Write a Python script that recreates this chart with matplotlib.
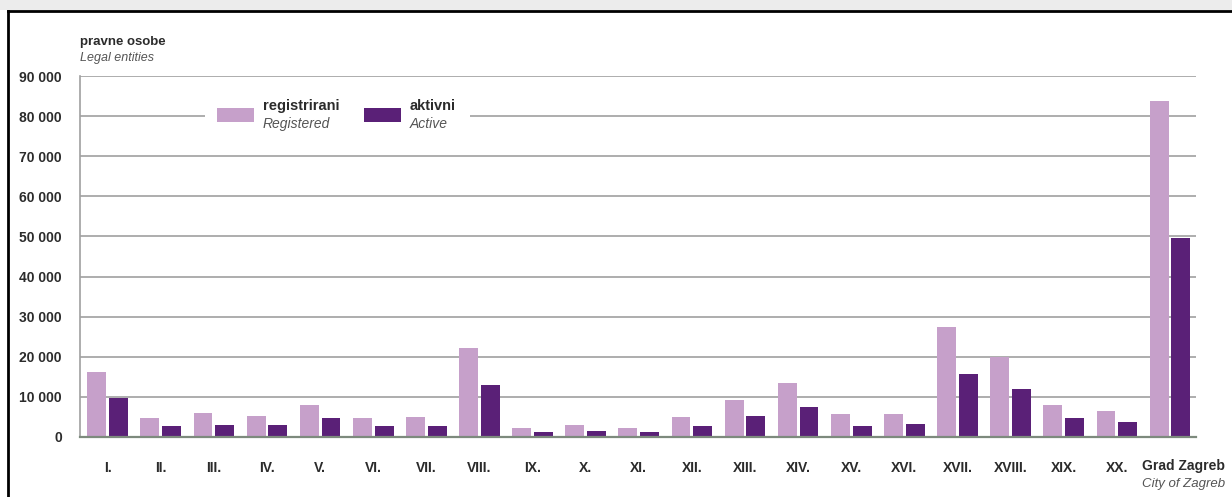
import matplotlib.pyplot as plt
import numpy as np
from matplotlib.patches import Rectangle
from matplotlib.lines import Line2D

# === DATA ===
districts = ["I.", "II.", "III.", "IV.", "V.", "VI.", "VII.", "VIII.", "IX.", "X.",
             "XI.", "XII.", "XIII.", "XIV.", "XV.", "XVI.", "XVII.", "XVIII.", "XIX.", "XX.",
             "Grad Zagreb"]
registered = [16300, 4750, 6000, 5250, 8000, 4800, 5100, 22300, 2200, 2900,
              2300, 5100, 9250, 13400, 5650, 5750, 27300, 20000, 8000, 6500, 83700]
active = [9800, 2800, 3000, 3000, 4800, 2700, 2800, 13000, 1250, 1600,
          1350, 2800, 5250, 7400, 2800, 3200, 15600, 11900, 4700, 3850, 49500]
yticks = list(range(0, 90001, 10000))

REG_COL = "#c6a0ca"
ACT_COL = "#5a2077"
TXT = "#2b2b2b"
FONT = ["Liberation Sans Narrow", "Liberation Sans", "DejaVu Sans"]
plt.rcParams['font.family'] = FONT

fig = plt.figure(figsize=(12.32, 4.97), dpi=100)
ax = fig.add_axes([80 / 1232, 60 / 497, 1116 / 1232, 361 / 497])

x = np.arange(len(districts))
w = 0.355
ax.bar(x - 0.205, registered, w, color=REG_COL, zorder=3)
ax.bar(x + 0.205, active, w, color=ACT_COL, zorder=3)

ax.set_xlim(-0.52, 20.49)
ax.set_ylim(0, 90000)
ax.set_yticks(yticks)
ax.set_yticklabels([f"{v // 1000} 000" if v else "0" for v in yticks])
ax.yaxis.grid(True, color="#a0a0a0", linewidth=1.2, zorder=0)
ax.tick_params(axis="y", length=0, pad=13, labelsize=10, labelcolor=TXT)
ax.tick_params(axis="x", length=0, pad=17, labelsize=10, labelcolor=TXT)
ax.set_xticks(x)
# last label is placed by hand, right-aligned to the frame edge
ax.set_xticklabels(districts[:-1] + [""])
for lbl in ax.get_xticklabels() + ax.get_yticklabels():
    lbl.set_fontweight("bold")

for s in ["top", "right"]:
    ax.spines[s].set_visible(False)
ax.spines["left"].set_color("#a0a0a0")
ax.spines["left"].set_linewidth(1.2)
ax.spines["bottom"].set_color("#7d8a7d")
ax.spines["bottom"].set_linewidth(1.6)
ax.spines["bottom"].set_zorder(4)

# titles
fig.text(80 / 1232, 1 - 42 / 497, "pravne osobe", fontsize=9.5, fontweight="bold",
         color=TXT, va="center")
fig.text(80 / 1232, 1 - 58 / 497, "Legal entities", fontsize=9, style="italic",
         color="#555555", va="center")
fig.text(1225 / 1232, 1 - 466 / 497, districts[-1], fontsize=10, fontweight="bold",
         color=TXT, va="center", ha="right")
fig.text(1225 / 1232, 1 - 484 / 497, "City of Zagreb", fontsize=9.5, style="italic",
         color="#555555", va="center", ha="right")

# legend (manual, white box over the gridline)
fig.patches.append(Rectangle((205 / 1232, 1 - 140 / 497), 265 / 1232, 48 / 497,
                             transform=fig.transFigure, facecolor="white",
                             edgecolor="none", zorder=5))
fig.patches.append(Rectangle((217 / 1232, 1 - 122 / 497), 37 / 1232, 14 / 497,
                             transform=fig.transFigure, facecolor=REG_COL, zorder=6))
fig.patches.append(Rectangle((364 / 1232, 1 - 122 / 497), 37 / 1232, 14 / 497,
                             transform=fig.transFigure, facecolor=ACT_COL, zorder=6))
fig.text(263 / 1232, 1 - 106 / 497, "registrirani", fontsize=10.5, fontweight="bold",
         color=TXT, va="center", zorder=7)
fig.text(263 / 1232, 1 - 124 / 497, "Registered", fontsize=10, style="italic",
         color="#555555", va="center", zorder=7)
fig.text(410 / 1232, 1 - 106 / 497, "aktivni", fontsize=10.5, fontweight="bold",
         color=TXT, va="center", zorder=7)
fig.text(410 / 1232, 1 - 124 / 497, "Active", fontsize=10, style="italic",
         color="#555555", va="center", zorder=7)

# outer frame (top + left) and soft shadow strip above
fig.patches.append(Rectangle((0, 1 - 10 / 497), 1, 10 / 497, transform=fig.transFigure,
                             facecolor="#ececec", edgecolor="none", zorder=0))
fig.lines.append(Line2D([8 / 1232, 1], [1 - 11 / 497, 1 - 11 / 497],
                        transform=fig.transFigure, color="black", linewidth=2))
fig.lines.append(Line2D([8 / 1232, 8 / 1232], [0, 1 - 11 / 497],
                        transform=fig.transFigure, color="black", linewidth=2))

fig.savefig("out.png", dpi=100)
